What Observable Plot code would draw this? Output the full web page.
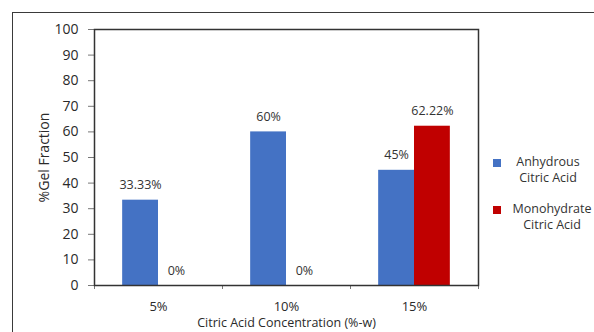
<!DOCTYPE html>
<html>
<head>
<meta charset="utf-8">
<script src="https://cdn.jsdelivr.net/npm/d3@7"></script>
<script src="https://cdn.jsdelivr.net/npm/@observablehq/plot@0.6"></script>
<style>
  body { margin: 0; background: #fff; font-family: "Open Sans", sans-serif; color: #333; }
  #wrap { position: relative; width: 594px; height: 332px; overflow: hidden; }
  #border { position: absolute; left: 12px; top: 12px; width: 700px; height: 400px;
            border-top: 1px solid #3a3a3a; border-left: 1px solid #3a3a3a; }
  #chart { position: absolute; left: 0; top: 0; }
  .item { position: absolute; font-size: 12.5px; line-height: 15.5px; white-space: nowrap; }
  .item .sw { position: absolute; width: 8px; height: 8px; }
  .item .tx { position: absolute; text-align: center; width: 96px; }
</style>
</head>
<body>
<div id="wrap">
  <div id="border"></div>
  <div id="chart"></div>
  <div id="legend"></div>
</div>
<script>
// Gel fraction (%) by citric acid concentration, for two forms of citric acid
const categories = ["5%", "10%", "15%"];
const seriesNames = ["Anhydrous Citric Acid", "Monohydrate Citric Acid"];
const legendLines = [["Anhydrous", "Citric Acid"], ["Monohydrate", "Citric Acid"]];
const anhydrous = [33.33, 60, 45];
const monohydrate = [0, 0, 62.22];
const yTicks = [0, 10, 20, 30, 40, 50, 60, 70, 80, 90, 100];
const colors = ["#4472C4", "#C00000"];

// one row per bar; each category occupies one unit on x, bars sit side by side at its centre
const rows = [];
categories.forEach((cat, i) => {
  [anhydrous, monohydrate].forEach((vals, s) => {
    rows.push({cat, i, s, series: seriesNames[s], value: vals[i]});
  });
});
const barW = 0.28; // bar width as a fraction of a category slot
const left = d => d.i + 0.5 - barW + d.s * barW;

const chart = Plot.plot({
  width: 594,
  height: 332,
  marginLeft: 94,
  marginRight: 116,
  marginTop: 29,
  marginBottom: 47,
  style: {fontFamily: "Open Sans, sans-serif", fontSize: "13px", color: "#2a2a2a", background: "transparent"},
  x: {type: "linear", domain: [0, categories.length], axis: null},
  y: {domain: [0, 100], axis: null},
  color: {domain: seriesNames, range: colors},
  marks: [
    Plot.rectY(rows, {x1: left, x2: d => left(d) + barW, y: "value", fill: "series"}),
    Plot.text(rows, {
      x: d => left(d) + barW / 2, y: "value", text: d => `${d.value}%`,
      dy: -15, fontSize: 12.5, fill: "#333"
    }),
    Plot.axisY({
      ticks: yTicks, tickSize: 6, tickPadding: 10, fontSize: 14,
      stroke: "#777", label: "%Gel Fraction", labelAnchor: "center",
      labelArrow: "none", labelOffset: 55
    }),
    Plot.axisX({ticks: d3.range(categories.length + 1), tickFormat: () => "", tickSize: 4, stroke: "#777", label: null}),
    Plot.axisX({
      ticks: categories.map((c, i) => i + 0.5), tickFormat: t => categories[Math.floor(t)],
      tickSize: 0, tickPadding: 16, fontSize: 13, label: null
    }),
    Plot.axisX({
      ticks: [], label: "Citric Acid Concentration (%-w)", labelAnchor: "center",
      labelArrow: "none", labelOffset: 41.5, fontSize: 12.5
    }),
    Plot.frame({stroke: "#333", strokeWidth: 1.5})
  ]
});
document.getElementById("chart").appendChild(chart);

// legend to the right of the plot area
const legend = document.getElementById("legend");
const legendPos = [{x: 493, y: 154, tx: 500}, {x: 493, y: 201, tx: 504}];
seriesNames.forEach((name, s) => {
  const item = document.createElement("div");
  item.className = "item";
  item.style.left = legendPos[s].x + "px";
  item.style.top = legendPos[s].y + "px";
  const sw = document.createElement("div");
  sw.className = "sw";
  sw.style.background = colors[s];
  sw.style.left = "0px";
  sw.style.top = "5px";
  const tx = document.createElement("div");
  tx.className = "tx";
  tx.style.left = (legendPos[s].tx - legendPos[s].x) + "px";
  tx.style.top = "0px";
  tx.innerHTML = legendLines[s].join("<br>");
  item.appendChild(sw);
  item.appendChild(tx);
  legend.appendChild(item);
});
</script>
</body>
</html>
